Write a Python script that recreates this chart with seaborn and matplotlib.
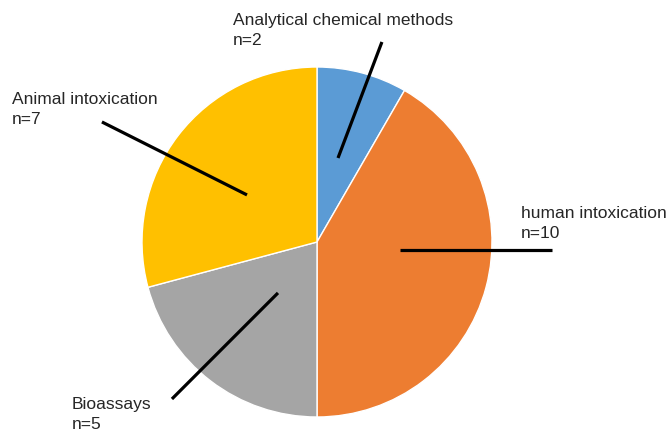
import matplotlib
matplotlib.use('Agg')
import matplotlib.pyplot as plt
import seaborn as sns

# data
labels = ['Analytical chemical methods', 'human intoxication', 'Bioassays', 'Animal intoxication']
counts = [2, 10, 5, 7]
colors = ['#5B9BD5', '#ED7D31', '#A5A5A5', '#FFC000']

# label placement (pie radius = 1)
text_pos = [(-0.48, 1.31), (1.166, 0.206), (-1.40, -0.886), (-1.743, 0.857)]
leader_lines = [
    [(0.12, 0.48), (0.371, 1.143)],
    [(0.474, -0.046), (1.343, -0.046)],
    [(-0.223, -0.291), (-0.829, -0.897)],
    [(-0.40, 0.269), (-1.229, 0.686)],
]

sns.set_theme(style='white')
plt.rcParams['font.family'] = ['Liberation Sans', 'DejaVu Sans']

fig = plt.figure(figsize=(6.66, 4.33), dpi=100)
ax = fig.add_axes([0, 0, 1, 1])
ax.pie(counts, colors=colors, startangle=90, counterclock=False, radius=1,
       wedgeprops=dict(edgecolor='white', linewidth=1))

for lab, n, (tx, ty), line in zip(labels, counts, text_pos, leader_lines):
    (x0, y0), (x1, y1) = line
    ax.plot([x0, x1], [y0, y1], color='black', lw=2.3, solid_capstyle='butt')
    ax.text(tx, ty, f'{lab}\nn={n}', ha='left', va='top', fontsize=12.5,
            color='#262626', linespacing=1.4)

ax.set_aspect('equal')
ax.set_xlim(-317 / 175, (666 - 317) / 175)
ax.set_ylim(-(433 - 242) / 175, 242 / 175)
ax.axis('off')

fig.savefig('out.png', dpi=100, facecolor='white')
